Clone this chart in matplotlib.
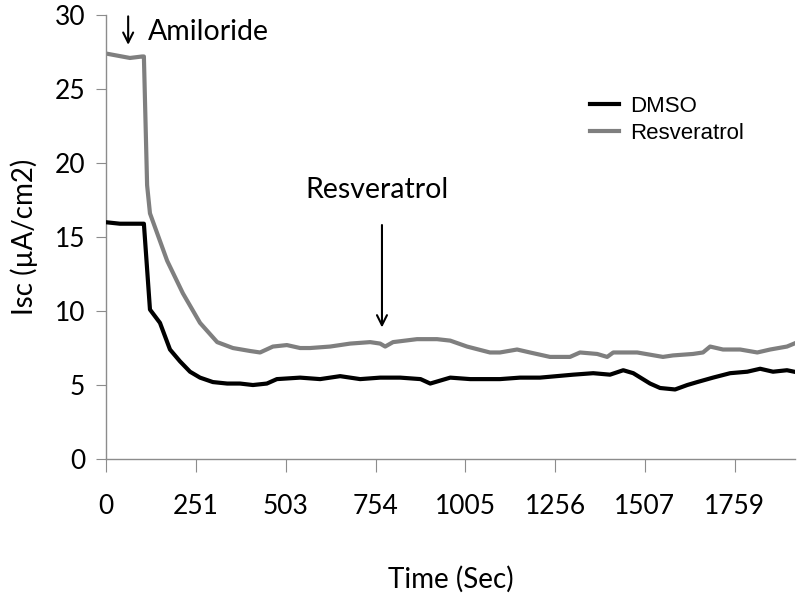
import matplotlib
matplotlib.use('Agg')
import matplotlib.pyplot as plt

# time (sec) and Isc (uA/cm2)
t_resv = [0, 67, 101, 106, 115, 123, 171, 215, 263, 311, 355, 403, 431, 467, 506, 543,
          571, 627, 683, 739, 767, 781, 803, 870, 926, 963, 1010, 1074, 1102, 1150, 1186,
          1242, 1298, 1326, 1374, 1402, 1419, 1486, 1558, 1586, 1642, 1670, 1690, 1726,
          1774, 1822, 1858, 1905, 1925]
isc_resv = [27.4, 27.1, 27.2, 27.2, 18.5, 16.6, 13.4, 11.2, 9.2, 7.9, 7.5, 7.3, 7.2, 7.6,
            7.7, 7.5, 7.5, 7.6, 7.8, 7.9, 7.8, 7.6, 7.9, 8.1, 8.1, 8.0, 7.6, 7.2, 7.2, 7.4,
            7.2, 6.9, 6.9, 7.2, 7.1, 6.9, 7.2, 7.2, 6.9, 7.0, 7.1, 7.2, 7.6, 7.4, 7.4, 7.2,
            7.4, 7.6, 7.8]

t_dmso = [0, 39, 101, 106, 123, 151, 179, 207, 235, 263, 299, 339, 375, 411, 450, 478,
          543, 599, 655, 711, 767, 823, 880, 907, 963, 1019, 1102, 1158, 1214, 1307, 1363,
          1410, 1447, 1475, 1522, 1550, 1592, 1626, 1654, 1698, 1746, 1794, 1830, 1866,
          1905, 1925]
isc_dmso = [16.0, 15.9, 15.9, 15.9, 10.1, 9.2, 7.4, 6.6, 5.9, 5.5, 5.2, 5.1, 5.1, 5.0,
            5.1, 5.4, 5.5, 5.4, 5.6, 5.4, 5.5, 5.5, 5.4, 5.1, 5.5, 5.4, 5.4, 5.5, 5.5,
            5.7, 5.8, 5.7, 6.0, 5.8, 5.1, 4.8, 4.7, 5.0, 5.2, 5.5, 5.8, 5.9, 6.1, 5.9,
            6.0, 5.9]

xticks = [0, 251, 503, 754, 1005, 1256, 1507, 1759]
yticks = [0, 5, 10, 15, 20, 25, 30]

main_font = 'Lato'
axis_grey = '#8c8c8c'

fig = plt.figure(figsize=(8, 6.02), dpi=100)
ax = fig.add_axes([0.1325, 0.2375, 0.8615, 0.7375])

ax.plot(t_dmso, isc_dmso, color='black', lw=3, label='DMSO', zorder=3)
ax.plot(t_resv, isc_resv, color='#7f7f7f', lw=3, label='Resveratrol', zorder=2)

ax.set_xlim(0, 1928)
ax.set_ylim(0, 30)
ax.set_xticks(xticks)
ax.set_yticks(yticks)
ax.tick_params(axis='x', direction='out', length=9, color=axis_grey, pad=16, labelsize=19)
ax.tick_params(axis='y', direction='out', length=7, color=axis_grey, pad=8, labelsize=19)
for lab in ax.get_xticklabels() + ax.get_yticklabels():
    lab.set_fontfamily(main_font)

for s in ['top', 'right']:
    ax.spines[s].set_visible(False)
for s in ['left', 'bottom']:
    ax.spines[s].set_color(axis_grey)
    ax.spines[s].set_linewidth(1)

ax.set_xlabel('Time (Sec)', fontsize=20, family=main_font, labelpad=34)
ax.set_ylabel('Isc (µA/cm2)', fontsize=20, family=main_font, labelpad=12)

# treatment markers
ax.annotate('', xy=(62, 27.8), xytext=(62, 30.1),
            arrowprops=dict(arrowstyle='->', color='black', lw=1.5, mutation_scale=18),
            annotation_clip=False)
ax.text(118, 28.85, 'Amiloride', fontsize=20.5, family=main_font, va='center', ha='left')
ax.annotate('', xy=(772, 8.7), xytext=(772, 16.0),
            arrowprops=dict(arrowstyle='->', color='black', lw=1.5, mutation_scale=18))
ax.text(758, 18.2, 'Resveratrol', fontsize=20.5, family=main_font, va='center', ha='center')

ax.legend(loc='upper left', bbox_to_anchor=(590 / 800, 1 - 96 / 602),
          bbox_transform=fig.transFigure, frameon=False, borderpad=0, borderaxespad=0,
          handlelength=1.3, handletextpad=0.5, labelspacing=0.25,
          prop={'family': 'Liberation Sans', 'size': 16})

fig.savefig('out.png', dpi=100)
